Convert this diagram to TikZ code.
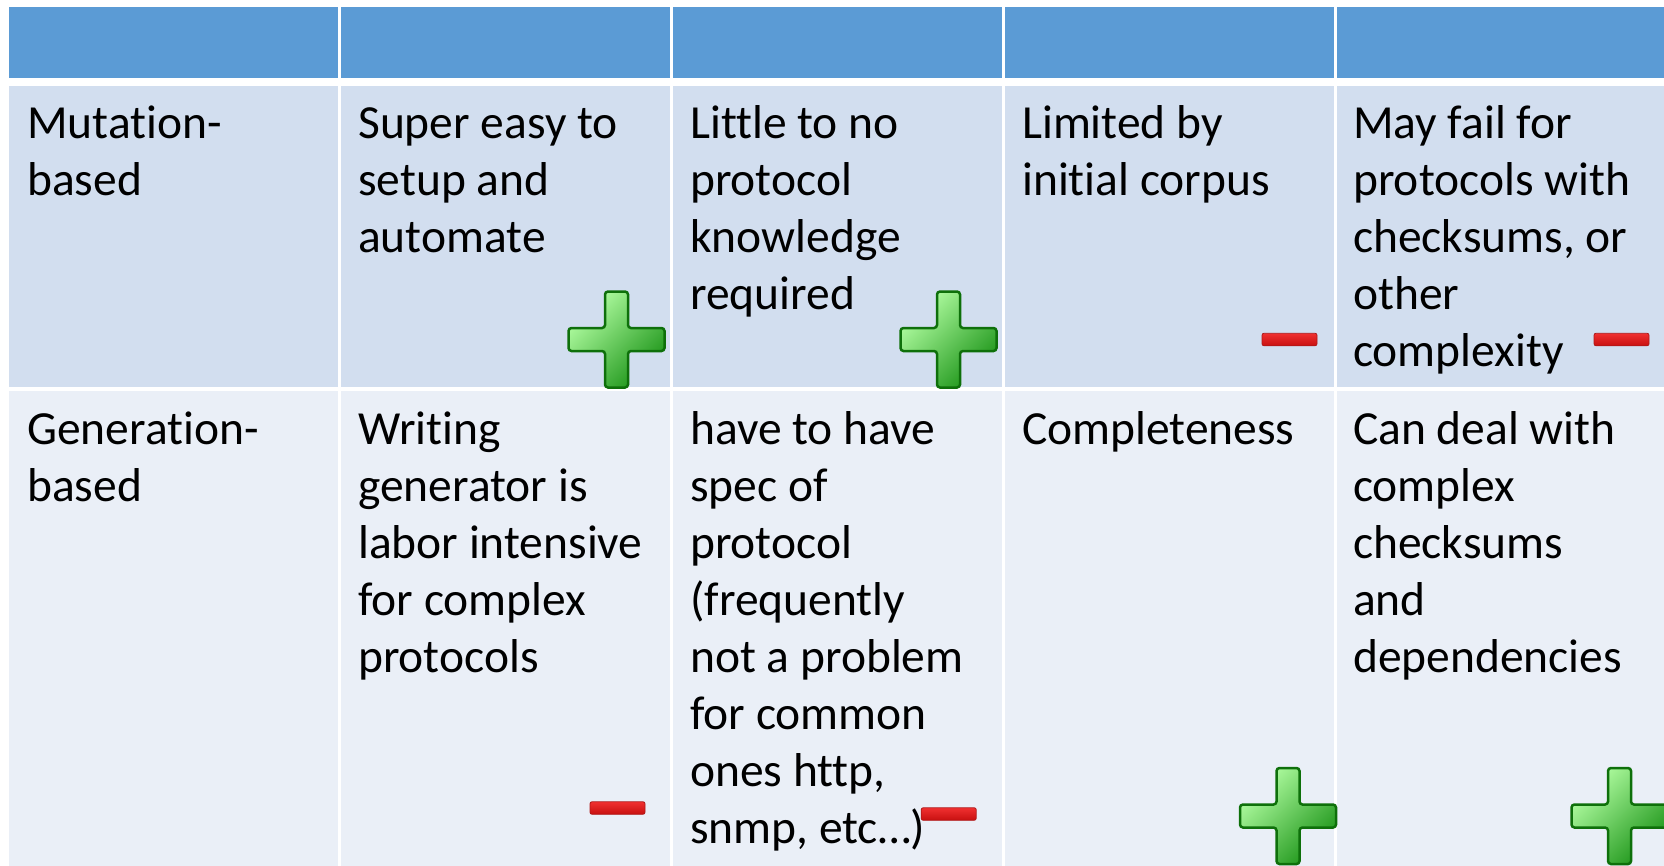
\documentclass[tikz,border=0pt]{standalone}
\usepackage{fontspec}
\setmainfont{Carlito}[Ligatures={NoCommon}]
\definecolor{hdr}{HTML}{5B9BD5}
\definecolor{rowA}{HTML}{D2DEEF}
\definecolor{rowB}{HTML}{EAEFF7}
\definecolor{gLight}{HTML}{B4FFA4}
\definecolor{gMid}{HTML}{55CC48}
\definecolor{gDark}{HTML}{1C9418}
\definecolor{gEdge}{HTML}{0E700A}
\definecolor{rLight}{HTML}{F03030}
\definecolor{rDark}{HTML}{C81010}
\definecolor{rEdge}{HTML}{B01818}
\begin{document}
\begin{tikzpicture}[x=1pt,y=-1pt,
  cell/.style={anchor=north west, inner sep=0pt, align=left, font=\fontsize{47.5}{57}\selectfont, text=black},
  plusmark/.pic={\shadedraw[top color=gLight, middle color=gMid, bottom color=gDark, shading angle=45, draw=gEdge, line width=2.5pt, rounded corners=3pt] (-11.5,-48) -- (11.5,-48) -- (11.5,-11.5) -- (48,-11.5) -- (48,11.5) -- (11.5,11.5) -- (11.5,48) -- (-11.5,48) -- (-11.5,11.5) -- (-48,11.5) -- (-48,-11.5) -- (-11.5,-11.5) -- cycle;},
  minusmark/.pic={\shadedraw[top color=rLight, bottom color=rDark, draw=rEdge, line width=0.8pt, rounded corners=2pt] (-27.5,-6.25) rectangle (27.5,6.25);}
]
\useasboundingbox (0,0) rectangle (1664,865);
\clip (0,0) rectangle (1664,865);
\foreach \xa/\xb in {9/338, 341/670, 673/1002, 1005/1334, 1337/1664} {
  \fill[hdr] (\xa,7) rectangle (\xb,78);
  \fill[rowA] (\xa,86) rectangle (\xb,387);
  \fill[rowB] (\xa,391) rectangle (\xb,866);
}
% row 1
\node[cell] (a1) at (27,98.5) {\strut Mutation-\\based};
\node[cell] (a2) at (358,98.5) {\strut Super easy to\\setup and\\automate};
\node[cell] (a3) at (690,98.5) {\strut Little to no\\protocol\\knowledge\\required};
\node[cell] (a4) at (1022,98.5) {\strut Limited by\\initial corpus};
\node[cell] (a5) at (1353,98.5) {\strut May fail for\\protocols with\\checksums, or\\other\\complexity};
% row 2
\node[cell] (b1) at (27,404.5) {\strut Generation-\\based};
\node[cell] (b2) at (358,404.5) {\strut Writing\\generator is\\labor intensive\\for complex\\protocols};
\node[cell] (b3) at (690,404.5) {\strut have to have\\spec of\\protocol\\(frequently\\not a problem\\for common\\ones http,\\snmp, etc…)};
\node[cell] (b4) at (1022,404.5) {\strut Completeness};
\node[cell] (b5) at (1353,404.5) {\strut Can deal with\\complex\\checksums\\and\\dependencies};
% marks
\pic (pa2) at (616.5,339.5) {plusmark};
\pic (pa3) at (948.5,339.5) {plusmark};
\pic (ma4) at (1289.5,339.5) {minusmark};
\pic (ma5) at (1621.5,339.5) {minusmark};
\pic (mb2) at (617.5,808) {minusmark};
\pic (mb3) at (948.7,814) {minusmark};
\pic (pb4) at (1288,816) {plusmark};
\pic (pb5) at (1619.5,816) {plusmark};
\end{tikzpicture}
\end{document}
